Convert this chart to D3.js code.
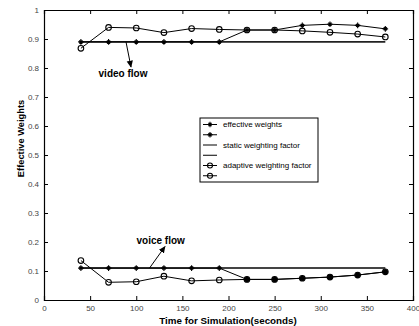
<!DOCTYPE html>
<html><head><meta charset="utf-8">
<script src="https://cdn.jsdelivr.net/npm/d3@7"></script>
<style>body{margin:0;background:#fff}svg{display:block}text{font-family:Arial,"Liberation Sans",sans-serif}</style>
</head><body>
<svg id="c" width="419" height="326"></svg>
<script>
const times = [40,70,100,130,160,190,220,250,280,310,340,370];
const videoEffective = [0.89,0.89,0.89,0.89,0.89,0.89,0.931,0.931,0.947,0.951,0.947,0.935];
const videoStatic = [0.89,0.89,0.89,0.89,0.89,0.89,0.89,0.89,0.89,0.89,0.89,0.89];
const videoAdaptive = [0.868,0.94,0.938,0.922,0.936,0.933,0.931,0.931,0.928,0.923,0.917,0.907];
const voiceEffective = [0.11,0.11,0.11,0.11,0.11,0.11,0.071,0.071,0.075,0.079,0.086,0.097];
const voiceStatic = [0.11,0.11,0.11,0.11,0.11,0.11,0.11,0.11,0.11,0.11,0.11,0.11];
const voiceAdaptive = [0.136,0.061,0.063,0.082,0.066,0.069,0.071,0.071,0.075,0.079,0.086,0.097];
const xTicks = [0,50,100,150,200,250,300,350,400];
const yTicks = [0,0.1,0.2,0.3,0.4,0.5,0.6,0.7,0.8,0.9,1];
const legendLabels = ["effective weights","","static weighting factor","","adaptive weighting factor",""];

const svg = d3.select("#c");
const L=44,R=413,T=10,B=300;
const x = d3.scaleLinear().domain([0,400]).range([L,R]);
const y = d3.scaleLinear().domain([0,1]).range([B,T]);

const fmt = d => d===0?"0":(d===1?"1":d3.format(".1f")(d));
const ax = svg.append("g").attr("transform",`translate(0,${B})`).call(d3.axisBottom(x).tickValues(xTicks).tickSize(-4).tickPadding(5));
const ay = svg.append("g").attr("transform",`translate(${L},0)`).call(d3.axisLeft(y).tickValues(yTicks).tickFormat(fmt).tickSize(-4).tickPadding(5));
const at = svg.append("g").attr("transform",`translate(0,${T})`).call(d3.axisTop(x).tickValues(xTicks).tickSize(-4).tickFormat(""));
const ar = svg.append("g").attr("transform",`translate(${R},0)`).call(d3.axisRight(y).tickValues(yTicks).tickSize(-4).tickFormat(""));
[ax,ay,at,ar].forEach(g=>{g.select(".domain").attr("stroke","#000").attr("stroke-width",1.2);g.selectAll(".tick line").attr("stroke","#000");g.selectAll("text").attr("font-size",8).attr("fill","#444");});

const line = d3.line().x((d,i)=>x(times[i])).y(d=>y(d));
function drawLine(vals,w,col){svg.append("path").datum(vals).attr("d",line).attr("fill","none").attr("stroke",col).attr("stroke-width",w);}
function star(g,cx,cy){
  const s=2.8, d=1.6;
  g.append("path").attr("d",`M${cx-s},${cy}H${cx+s}M${cx},${cy-s}V${cy+s}M${cx-d},${cy-d}L${cx+d},${cy+d}M${cx-d},${cy+d}L${cx+d},${cy-d}`).attr("stroke","#000").attr("stroke-width",1.1);
}
function stars(vals){const g=svg.append("g");vals.forEach((v,i)=>star(g,x(times[i]),y(v)));}
function circles(vals){svg.append("g").selectAll("circle").data(vals).join("circle").attr("cx",(d,i)=>x(times[i])).attr("cy",d=>y(d)).attr("r",2.8).attr("fill","none").attr("stroke","#000").attr("stroke-width",1.1);}

drawLine(videoStatic,1.6,"#222");
drawLine(voiceStatic,2,"#444");
drawLine(videoEffective,1,"#000");
drawLine(voiceEffective,1,"#000");
drawLine(videoAdaptive,1,"#000");
drawLine(voiceAdaptive,1,"#000");
stars(videoEffective); stars(voiceEffective);
circles(videoAdaptive); circles(voiceAdaptive);
svg.append("g").selectAll("circle").data(voiceAdaptive.slice(6)).join("circle").attr("cx",(d,i)=>x(times[i+6])).attr("cy",d=>y(d)).attr("r",2.6).attr("fill","#000");

// annotations
const defs = svg.append("defs");
defs.append("marker").attr("id","ah").attr("viewBox","0 0 10 10").attr("refX",9).attr("refY",5).attr("markerWidth",7).attr("markerHeight",7).attr("markerUnits","userSpaceOnUse").attr("orient","auto").append("path").attr("d","M0,0.5L10,5L0,9.5z").attr("fill","#000");
svg.append("line").attr("x1",126).attr("y1",y(0.89)).attr("x2",131).attr("y2",67).attr("stroke","#000").attr("stroke-width",1).attr("marker-end","url(#ah)");
svg.append("text").attr("x",123).attr("y",77).attr("text-anchor","middle").attr("font-size",10).attr("font-weight","bold").text("video flow");
svg.append("line").attr("x1",149.5).attr("y1",y(0.11)).attr("x2",165).attr("y2",246.5).attr("stroke","#000").attr("stroke-width",1).attr("marker-end","url(#ah)");
svg.append("text").attr("x",160.7).attr("y",243.5).attr("text-anchor","middle").attr("font-size",10).attr("font-weight","bold").text("voice flow");

// axis titles
svg.append("text").attr("x",228).attr("y",323.5).attr("text-anchor","middle").attr("font-size",9.8).attr("font-weight","bold").text("Time for Simulation(seconds)");
svg.append("text").attr("transform","translate(23.5,138.5) rotate(-90)").attr("text-anchor","middle").attr("font-size",9.3).attr("font-weight","bold").text("Effective Weights");

// legend
const lg = svg.append("g");
lg.append("rect").attr("x",200).attr("y",118).attr("width",118).attr("height",64).attr("fill","#fff").attr("stroke","#000").attr("stroke-width",1);
legendLabels.forEach((t,i)=>{
  const yy=124.5+i*10.25;
  lg.append("line").attr("x1",203).attr("x2",217).attr("y1",yy).attr("y2",yy).attr("stroke","#000").attr("stroke-width",1);
  if(i<2) star(lg,210,yy);
  else if(i>=4) lg.append("circle").attr("cx",210).attr("cy",yy).attr("r",2.5).attr("fill","none").attr("stroke","#000").attr("stroke-width",1.1);
  if(t) lg.append("text").attr("x",223).attr("y",yy+2.7).attr("font-size",8).attr("fill","#000").text(t);
});
</script>
</body></html>
